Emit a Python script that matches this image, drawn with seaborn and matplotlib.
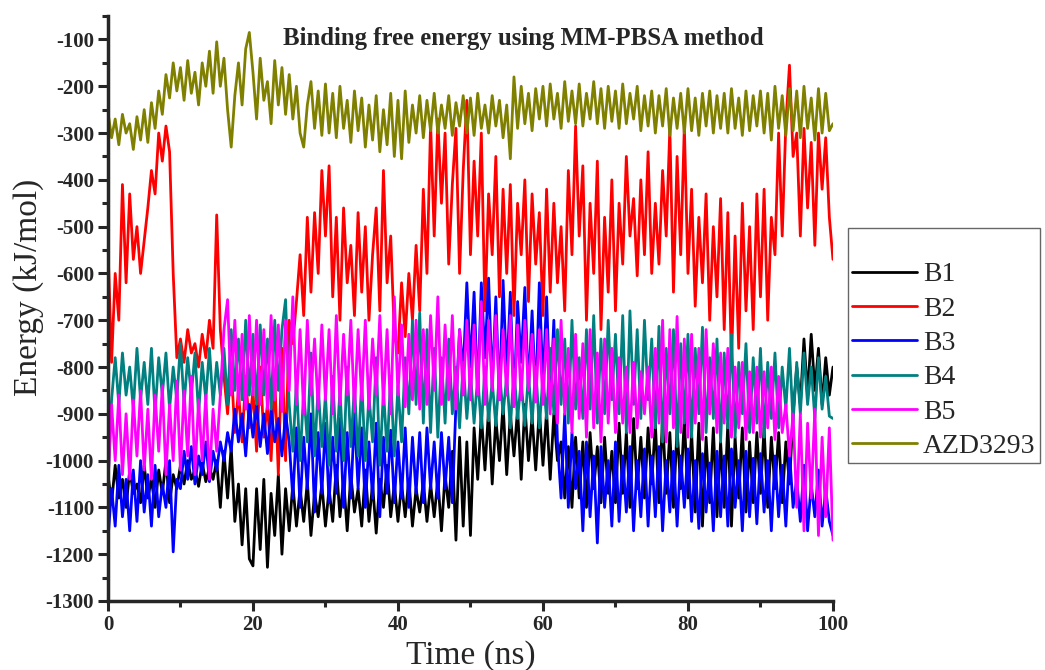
import numpy as np
import pandas as pd
import matplotlib
matplotlib.use("Agg")
import matplotlib.pyplot as plt
import seaborn as sns

# time axis, 0-100 ns sampled every 0.5 ns
time_ns = np.arange(0, 100.5, 0.5)

b1 = [-1030, -1090, -1010, -1080, -1040, -1100, -1020, -1070, -1050, -1090,
      -1010, -1080, -1040, -1100, -1020, -1070, -1000, -1090, -1030, -1060,
      -1010, -1050, -1000, -1040, -1020, -1055, -1005, -1045, -1015, -1040,
      -1000, -1100, -980, -1080, -970, -1130, -1050, -1180, -1060, -1210,
      -1225, -1060, -1190, -1040, -1228, -1070, -1160, -1030, -1200, -1060,
      -1150, -1050, -1140, -1060, -1130, -1045, -1160, -1070, -1120, -1050,
      -1140, -1060, -1130, -1010, -1120, -1040, -1150, -1030, -1110, -1060,
      -1140, -1020, -1130, -1050, -1155, -1040, -1100, -1010, -1120, -1050,
      -1130, -1050, -1120, -1040, -1140, -1060, -1110, -1045, -1130, -1050,
      -1120, -1040, -1150, -1030, -1100, -980, -1170, -950, -1140, -960,
      -1160, -930, -1040, -900, -1020, -890, -1050, -910, -1000, -880,
      -1030, -900, -990, -890, -1040, -880, -1000, -905, -1020, -890,
      -1010, -895, -1040, -900, -1000, -960, -1080, -970, -1100, -950,
      -1080, -960, -1100, -940, -1060, -970, -1090, -950, -1070, -980,
      -1090, -920, -1070, -940, -1100, -910, -1060, -950, -1080, -930,
      -1050, -920, -1090, -905, -1070, -940, -1100, -930, -1060, -910,
      -1080, -940, -1110, -920, -1140, -950, -1090, -930, -1120, -960,
      -1100, -920, -1140, -950, -1080, -930, -1110, -960, -1090, -940,
      -1070, -930, -1100, -950, -1060, -940, -1090, -960, -1050, -900,
      -800, -880, -740, -860, -730, -850, -760, -880, -780, -860,
      -800]

b2 = [-540, -790, -600, -700, -410, -620, -430, -570, -500, -600,
      -530, -460, -380, -430, -300, -360, -285, -340, -600, -780,
      -740, -790, -720, -770, -750, -800, -730, -780, -700, -760,
      -475, -720, -820, -900, -800, -940, -850, -960, -820, -930,
      -850, -980, -800, -950, -880, -1000, -820, -1030, -760, -1000,
      -700, -750, -660, -560, -690, -480, -640, -470, -600, -380,
      -520, -370, -650, -480, -700, -460, -620, -540, -690, -470,
      -640, -500, -700, -560, -460, -680, -380, -620, -520, -730,
      -770, -620, -735, -600, -700, -540, -680, -420, -600, -280,
      -520, -270, -450, -300, -580, -410, -290, -600, -380, -230,
      -560, -360, -520, -300, -680, -430, -560, -350, -650, -420,
      -600, -410, -690, -450, -560, -400, -660, -430, -580, -470,
      -690, -420, -640, -450, -620, -500, -680, -380, -560, -285,
      -520, -370, -700, -450, -600, -360, -720, -480, -640, -400,
      -680, -450, -580, -350, -520, -440, -605, -400, -560, -340,
      -600, -450, -580, -380, -520, -290, -640, -350, -560, -285,
      -600, -420, -670, -480, -620, -430, -700, -500, -650, -440,
      -720, -470, -790, -520, -760, -450, -680, -500, -720, -430,
      -650, -420, -700, -480, -560, -300, -520, -280, -155, -350,
      -300, -520, -290, -460, -320, -540, -300, -420, -310, -480,
      -570]

b3 = [-1170, -1060, -1140, -1010, -1120, -1040, -1150, -1020, -1130, -1000,
      -1110, -1030, -1140, -1010, -1120, -1050, -1100, -1000, -1195, -1040,
      -1060, -980, -1040, -970, -1050, -990, -1030, -960, -1045, -980,
      -1020, -960, -1000, -940, -980, -890, -960, -900, -990, -880,
      -950, -880, -970, -900, -985, -890, -960, -910, -990, -900,
      -960, -1080, -930, -1100, -950, -1060, -900, -1110, -940, -1070,
      -920, -1090, -950, -1070, -910, -1100, -940, -1080, -900, -1060,
      -930, -1100, -960, -1080, -920, -1120, -950, -1070, -935, -1090,
      -960, -1080, -930, -1100, -950, -1070, -940, -1090, -930, -1060,
      -960, -1080, -940, -1060, -950, -1090, -880, -720, -810, -620,
      -800, -640, -860, -620, -780, -610, -840, -650, -870, -615,
      -820, -640, -880, -660, -790, -630, -850, -680, -870, -620,
      -840, -650, -880, -700, -960, -1080, -900, -1100, -940, -1060,
      -980, -1150, -960, -1120, -990, -1176, -970, -1100, -1000, -1140,
      -960, -1130, -990, -1110, -970, -1150, -1000, -1120, -975, -1140,
      -990, -1120, -970, -1150, -1000, -1110, -980, -1140, -990, -1100,
      -975, -1130, -1000, -1145, -985, -1110, -1005, -1150, -980, -1120,
      -990, -1140, -975, -1100, -1000, -1150, -980, -1120, -995, -1135,
      -985, -1110, -1000, -1150, -990, -1120, -1010, -1140, -980, -1100,
      -1040, -1130, -1010, -1150, -1050, -1120, -1020, -1140, -1060, -1130,
      -1160]

b4 = [-1050, -870, -780, -880, -770, -860, -800, -890, -760, -870,
      -790, -880, -760, -900, -780, -860, -770, -890, -800, -870,
      -750, -880, -780, -860, -770, -900, -790, -870, -760, -880,
      -790, -860, -760, -880, -720, -850, -740, -870, -700, -860,
      -730, -880, -710, -860, -740, -890, -700, -850, -720, -656,
      -880, -980, -830, -1000, -850, -960, -770, -990, -840, -970,
      -860, -1010, -820, -980, -850, -1000, -800, -970, -840, -990,
      -830, -1000, -860, -960, -780, -1010, -850, -980, -820, -990,
      -840, -960, -780, -900, -700, -880, -684, -920, -720, -940,
      -760, -950, -780, -920, -740, -900, -800, -930, -790, -910,
      -810, -920, -820, -930, -800, -915, -830, -925, -810, -900,
      -820, -930, -805, -910, -830, -925, -815, -920, -800, -930,
      -820, -910, -760, -900, -720, -880, -740, -920, -700, -890,
      -780, -910, -720, -890, -690, -920, -740, -900, -700, -870,
      -730, -900, -690, -940, -680, -880, -720, -910, -700, -870,
      -740, -930, -713, -960, -760, -900, -720, -970, -750, -920,
      -730, -950, -760, -900, -715, -940, -780, -910, -740, -960,
      -770, -930, -730, -950, -790, -900, -750, -940, -780, -920,
      -760, -950, -790, -910, -770, -930, -800, -890, -760, -920,
      -790, -900, -770, -880, -800, -910, -780, -890, -820, -905,
      -910]

b5 = [-1050, -880, -1000, -860, -1030, -900, -1040, -870, -990, -850,
      -1020, -890, -1040, -860, -980, -840, -1030, -880, -1000, -830,
      -1020, -850, -990, -820, -1030, -870, -1000, -860, -1040, -890,
      -980, -860, -720, -656, -860, -700, -880, -730, -890, -690,
      -860, -700, -880, -720, -890, -690, -870, -710, -895, -700,
      -850, -650, -880, -720, -900, -700, -860, -740, -890, -710,
      -870, -720, -900, -690, -880, -730, -860, -700, -895, -720,
      -870, -700, -890, -740, -860, -690, -880, -720, -900, -650,
      -860, -710, -885, -730, -870, -700, -890, -720, -880, -690,
      -850, -650, -880, -710, -870, -690, -890, -720, -860, -700,
      -870, -710, -860, -660, -880, -700, -850, -690, -870, -720,
      -860, -690, -885, -710, -870, -700, -850, -730, -875, -720,
      -880, -720, -900, -740, -920, -700, -900, -760, -940, -730,
      -910, -750, -950, -720, -930, -770, -960, -740, -920, -760,
      -940, -780, -920, -800, -940, -790, -930, -810, -900, -800,
      -950, -760, -920, -700, -960, -720, -930, -692, -940, -740,
      -950, -730, -920, -760, -955, -720, -900, -750, -940, -770,
      -920, -760, -950, -800, -930, -790, -955, -810, -940, -800,
      -950, -810, -930, -800, -955, -820, -940, -880, -990, -900,
      -1100, -900, -1150, -920, -1080, -890, -1160, -950, -1120, -930,
      -1170]

azd3293 = [-255, -310, -270, -325, -260, -300, -280, -335, -265, -315,
           -250, -320, -235, -290, -210, -260, -175, -225, -150, -210,
           -160, -230, -145, -215, -170, -240, -150, -200, -125, -215,
           -105, -200, -140, -250, -330, -220, -150, -240, -120, -85,
           -170, -270, -140, -230, -190, -280, -145, -240, -160, -260,
           -175, -270, -200, -300, -330, -240, -190, -290, -210, -305,
           -195, -300, -215, -310, -200, -290, -230, -320, -210, -295,
           -225, -330, -240, -315, -220, -340, -250, -325, -215, -350,
           -230, -355, -210, -320, -240, -300, -220, -310, -230, -295,
           -215, -300, -240, -290, -220, -305, -235, -285, -220, -300,
           -225, -305, -215, -290, -240, -300, -220, -285, -230, -310,
           -240, -355, -180, -290, -200, -280, -215, -295, -205, -270,
           -200, -285, -195, -270, -215, -290, -190, -275, -210, -280,
           -195, -285, -215, -270, -190, -280, -205, -290, -200, -275,
           -210, -290, -195, -280, -215, -270, -200, -295, -220, -285,
           -210, -300, -220, -285, -205, -305, -225, -290, -215, -300,
           -205, -295, -225, -305, -215, -285, -210, -300, -220, -290,
           -215, -300, -205, -290, -225, -305, -210, -295, -220, -285,
           -210, -300, -215, -315, -200, -290, -220, -305, -205, -295,
           -210, -310, -200, -290, -225, -315, -205, -300, -215, -295,
           -280]

names = ["B1", "B2", "B3", "B4", "B5", "AZD3293"]
colors = ["#000000", "#FF0000", "#0000FF", "#008080", "#FF00FF", "#808000"]

frames = []
for name, vals in zip(names, [b1, b2, b3, b4, b5, azd3293]):
    frames.append(pd.DataFrame({"Time": time_ns, "Energy": vals, "Series": name}))
df = pd.concat(frames, ignore_index=True)

sns.set_style("ticks")
plt.rcParams["font.family"] = ["Liberation Serif", "DejaVu Serif"]
plt.rcParams["axes.unicode_minus"] = False

fig = plt.figure(figsize=(10.45, 6.7), dpi=100)
ax = fig.add_axes([0.1033, 0.103, 0.6938, 0.873])

sns.lineplot(data=df, x="Time", y="Energy", hue="Series", hue_order=names,
             palette=colors, linewidth=2.0, estimator=None, ax=ax)

ax.set_xlim(0, 100)
ax.set_ylim(-1300, -50)
ax.set_xticks(np.arange(0, 101, 20))
ax.set_xticks(np.arange(10, 100, 20), minor=True)
ax.set_yticks(np.arange(-1300, -99, 100))
ax.set_yticks(np.arange(-1250, -49, 100), minor=True)

sns.despine(ax=ax)
for side in ["left", "bottom"]:
    ax.spines[side].set_linewidth(2.5)
ax.tick_params(which="major", direction="out", length=7, width=2.2, labelsize=15, pad=3)
ax.tick_params(which="minor", direction="out", length=4, width=2.2)
for lab in ax.get_xticklabels() + ax.get_yticklabels():
    lab.set_fontweight("bold")

ax.set_xlabel("Time (ns)", fontsize=24, labelpad=4)
ax.set_ylabel("Energy (kJ/mol)", fontsize=24)
ax.yaxis.set_label_coords(-0.088, 0.537)

ax.text(0.573, 0.962, "Binding free energy using MM-PBSA method", transform=ax.transAxes,
        ha="center", va="center", fontsize=17.8, fontweight="bold")

handles, labels = ax.get_legend_handles_labels()
ax.get_legend().remove()
for h in handles:
    h.set_linewidth(2.0)
leg = fig.legend(handles, labels, loc="upper left", bbox_to_anchor=(0.8115, 0.66),
                 fontsize=20, frameon=True, fancybox=False, edgecolor="#666666",
                 framealpha=1, handlelength=2.35, handletextpad=0.2, labelspacing=0.32,
                 borderpad=0.15, borderaxespad=0, title=" ", title_fontsize=17)
leg.get_frame().set_linewidth(1.0)

fig.savefig("out.png", dpi=100)
